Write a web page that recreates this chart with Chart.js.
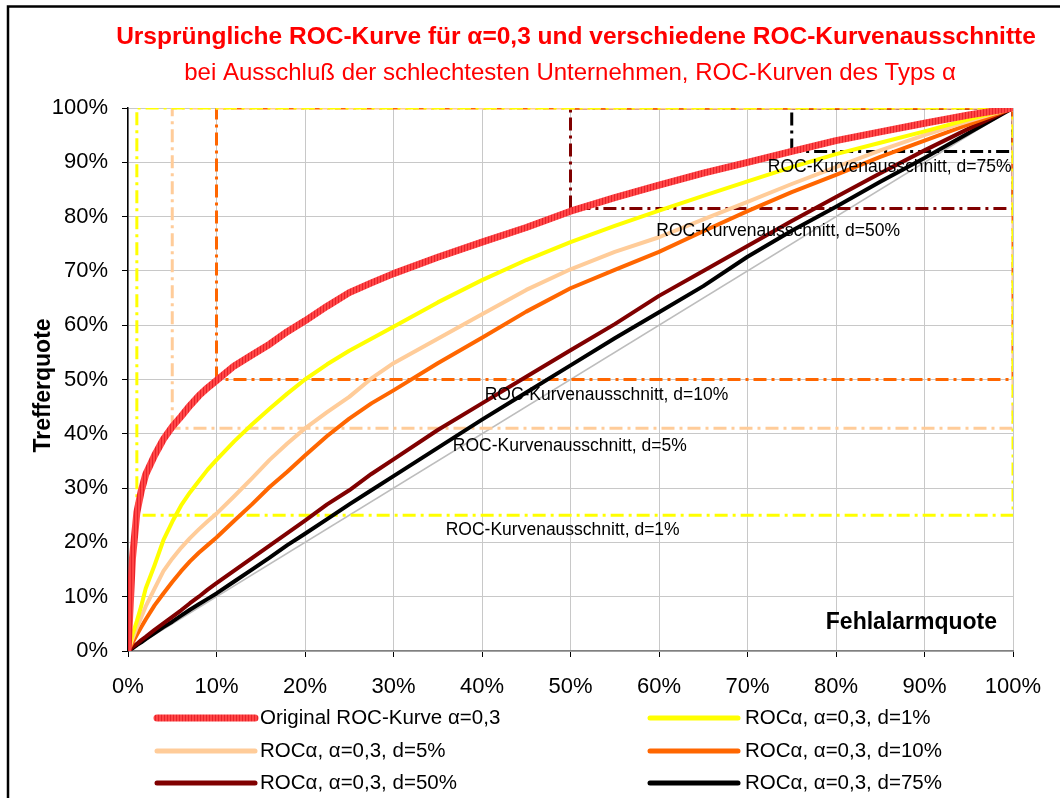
<!DOCTYPE html>
<html>
<head>
<meta charset="utf-8">
<script src="https://cdn.jsdelivr.net/npm/chart.js@4"></script>
<style>
  html, body { margin: 0; padding: 0; background: #fff; }
  canvas { display: block; }
</style>
</head>
<body>
<canvas id="roc" width="1060" height="798" style="width:1060px;height:798px"></canvas>
<script>
// ---- data -------------------------------------------------------------
// false alarm rate (x, in %)
const FPR = [0, 0.5, 1, 1.5, 2, 3, 4, 5, 6, 7, 8, 9, 10, 12, 14, 16, 18, 20, 22.5, 25, 27.5,
             30, 35, 40, 45, 50, 55, 60, 65, 70, 75, 80, 85, 90, 95, 100];

// hit rate (y, in %) of each curve
const ROC_ORIGINAL = [0, 17, 25.5, 29.5, 32.5, 36, 39, 41.3, 43.2, 45.2, 47, 48.5, 49.8, 52.5, 54.5,
                      56.5, 58.8, 60.8, 63.5, 66, 67.8, 69.5, 72.5, 75.3, 78, 81, 83.5, 85.8, 88, 90,
                      92, 94, 95.6, 97.2, 98.7, 100];
const ROC_D1  = [0, 3, 5.5, 8.3, 11.5, 15.8, 20.4, 23.8, 26.8, 29.2, 31.3, 33.4, 35.2, 38.6, 41.7,
                 44.6, 47.4, 50, 52.8, 55.3, 57.5, 59.7, 64.2, 68.3, 72, 75.3, 78.3, 81.1, 83.8, 86.5,
                 89.1, 91.5, 93.6, 95.7, 97.9, 100];
const ROC_D5  = [0, 2.2, 4.3, 6.2, 8.2, 11.5, 14.7, 17, 19, 20.8, 22.4, 23.9, 25.3, 28.5, 31.8,
                 35.2, 38.2, 41, 44, 46.8, 50.2, 53, 57.5, 62, 66.5, 70.3, 73.5, 76.2, 79.5, 82.7,
                 86, 89.1, 92.2, 95, 97.6, 100];
const ROC_D10 = [0, 1.5, 3, 4.4, 5.8, 8.4, 10.6, 12.7, 14.7, 16.5, 18.1, 19.5, 20.9, 24, 27,
                 30.2, 33, 36, 39.6, 42.8, 45.6, 48, 53, 57.7, 62.5, 66.8, 70.2, 73.5, 77.3, 81,
                 84.5, 87.7, 91, 94, 97, 100];
const ROC_D50 = [0, 0.7, 1.3, 2, 2.6, 3.9, 5.1, 6.3, 7.5, 8.8, 10, 11.3, 12.5, 14.8, 17.1,
                 19.4, 21.7, 24, 27, 29.6, 32.6, 35.3, 40.7, 45.6, 50.5, 55.4, 60.2, 65.4, 70, 74.6,
                 79.2, 83.6, 88, 92.2, 96.2, 100];
const ROC_D75 = [0, 0.5, 1.1, 1.6, 2.2, 3.3, 4.4, 5.4, 6.5, 7.6, 8.6, 9.6, 10.6, 12.8, 15,
                 17.2, 19.5, 21.6, 24.3, 27, 29.6, 32.2, 37.4, 42.6, 47.6, 52.6, 57.6, 62.4, 67.2, 72.6,
                 77.4, 81.8, 86.4, 90.8, 95.4, 100];

// diagonal (random model)
const DIAG_X = [0, 100];
const DIAG_Y = [0, 100];

// curve sections: lower-left corner (false alarm rate, hit rate) of each window
const SECTION_D   = [1, 5, 10, 50, 75];
const SECTION_HIT = [25, 41, 50, 81.5, 92];
const SECTION_TEXT = ['ROC-Kurvenausschnitt, d=1%', 'ROC-Kurvenausschnitt, d=5%',
                      'ROC-Kurvenausschnitt, d=10%', 'ROC-Kurvenausschnitt, d=50%',
                      'ROC-Kurvenausschnitt, d=75%'];
// where each section caption sits (data coordinates of its left edge)
const SECTION_TEXT_X = [35.9, 36.7, 40.3, 59.7, 72.3];
const SECTION_TEXT_Y = [22.3, 37.8, 47.1, 77.3, 89.1];

const SERIES_NAMES = ['Original ROC-Kurve α=0,3', 'ROCα, α=0,3, d=1%', 'ROCα, α=0,3, d=5%',
                      'ROCα, α=0,3, d=10%', 'ROCα, α=0,3, d=50%', 'ROCα, α=0,3, d=75%'];

const X_TICKS = [0, 10, 20, 30, 40, 50, 60, 70, 80, 90, 100];
const Y_TICKS = [0, 10, 20, 30, 40, 50, 60, 70, 80, 90, 100];

const TITLE = ['Ursprüngliche ROC-Kurve für α=0,3 und verschiedene ROC-Kurvenausschnitte',
               'bei Ausschluß der schlechtesten Unternehmen, ROC-Kurven des Typs α'];
const X_TITLE = 'Fehlalarmquote';
const Y_TITLE = 'Trefferquote';

// ---- styles -----------------------------------------------------------
const FONT = "'Liberation Sans', Arial, Helvetica, sans-serif";
const COLORS = ['#ff3b3b', '#ffff00', '#ffcc99', '#ff6600', '#800000', '#000000'];
const SECTION_COLORS = ['#ffff00', '#ffcc99', '#ff6600', '#800000', '#000000'];

// hatched red stroke for the original curve
function hatchedRed() {
  const p = document.createElement('canvas');
  p.width = 3; p.height = 1;
  const g = p.getContext('2d');
  g.fillStyle = '#ff4646'; g.fillRect(0, 0, 3, 1);
  g.fillStyle = '#e8232b'; g.fillRect(2, 0, 1, 1);
  return document.getElementById('roc').getContext('2d').createPattern(p, 'repeat');
}

const pts = (xs, ys) => xs.map((x, i) => ({ x, y: ys[i] }));

const curveValues = [ROC_ORIGINAL, ROC_D1, ROC_D5, ROC_D10, ROC_D50, ROC_D75];
const redPattern = hatchedRed();

const curveSets = curveValues.map((vals, i) => ({
  label: SERIES_NAMES[i],
  data: pts(FPR, vals),
  borderColor: i === 0 ? redPattern : COLORS[i],
  borderWidth: i === 0 ? 7 : 4,
  legendWidth: i === 0 ? 7 : 5,
  inLegend: true,
  showLine: true,
  pointRadius: 0,
  tension: 0,
  borderCapStyle: 'round',
  borderJoinStyle: 'round'
}));

const sectionSets = SECTION_D.map((d, i) => ({
  label: SECTION_TEXT[i],
  data: [
    { x: d, y: SECTION_HIT[i] }, { x: d, y: 100 }, { x: 100, y: 100 },
    { x: 100, y: SECTION_HIT[i] }, { x: d, y: SECTION_HIT[i] }
  ],
  borderColor: SECTION_COLORS[i],
  borderWidth: 3,
  borderDash: [13, 5, 3, 5],
  showLine: true,
  pointRadius: 0,
  tension: 0
}));

const diagSet = {
  label: 'Zufallsmodell',
  data: pts(DIAG_X, DIAG_Y),
  borderColor: '#bdbdbd',
  borderWidth: 1.5,
  showLine: true,
  pointRadius: 0
};

// ---- titles, captions, legend, frame ---------------------------------
const decorations = {
  id: 'decorations',
  beforeDraw(chart) {
    const c = chart.ctx;
    c.save();
    c.fillStyle = '#fff';
    c.fillRect(0, 0, chart.width, chart.height);
    c.strokeStyle = '#000';
    c.lineWidth = 2.5;
    c.strokeRect(8, 6.5, chart.width + 40, chart.height + 40);
    c.restore();
  },
  afterDraw(chart) {
    const c = chart.ctx, xs = chart.scales.x, ys = chart.scales.y;
    c.save();
    c.textBaseline = 'middle';

    // title
    c.fillStyle = '#ff0000';
    c.textAlign = 'center';
    c.font = `bold 24.5px ${FONT}`;
    c.fillText(TITLE[0], 576, 37);
    c.font = `24px ${FONT}`;
    c.fillText(TITLE[1], 570, 73);

    // axis titles
    c.fillStyle = '#000';
    c.font = `bold 23px ${FONT}`;
    c.textAlign = 'right';
    c.fillText(X_TITLE, xs.getPixelForValue(98.2), ys.getPixelForValue(5.2));
    c.save();
    c.translate(44, (ys.top + ys.bottom) / 2 + 6);
    c.rotate(-Math.PI / 2);
    c.textAlign = 'center';
    c.fillText(Y_TITLE, 0, 0);
    c.restore();

    // section captions
    c.font = `17.5px ${FONT}`;
    c.textAlign = 'left';
    SECTION_TEXT.forEach((t, i) => {
      c.fillText(t, xs.getPixelForValue(SECTION_TEXT_X[i]), ys.getPixelForValue(SECTION_TEXT_Y[i]));
    });

    // legend: two columns, three rows
    const colLine = [[157, 255], [650, 738]];
    const colText = [260, 745];
    const rowY = [718, 751, 783];
    c.font = `20.5px ${FONT}`;
    const items = chart.data.datasets.filter(ds => ds.inLegend);
    items.forEach((ds, i) => {
      const col = i % 2, row = Math.floor(i / 2);
      const y = rowY[row];
      c.beginPath();
      c.strokeStyle = ds.borderColor;
      c.lineWidth = ds.legendWidth;
      c.lineCap = 'round';
      c.moveTo(colLine[col][0], y);
      c.lineTo(colLine[col][1], y);
      c.stroke();
      c.fillStyle = '#000';
      c.fillText(ds.label, colText[col], y);
    });
    c.restore();
  }
};

new Chart(document.getElementById('roc'), {
  type: 'scatter',
  data: { datasets: [...curveSets, ...sectionSets, diagSet] },
  options: {
    responsive: false,
    animation: false,
    devicePixelRatio: 1,
    layout: { padding: { left: 0, top: 108, right: 47, bottom: 0 } },
    plugins: {
      legend: { display: false },
      title: { display: false },
      tooltip: { enabled: false }
    },
    scales: {
      x: {
        type: 'linear',
        min: 0, max: 100,
        afterBuildTicks: s => { s.ticks = X_TICKS.map(v => ({ value: v })); },
        afterFit: s => { s.height = 147; },
        ticks: {
          callback: v => v + '%',
          color: '#000',
          font: { family: FONT, size: 22 },
          padding: 17,
          maxRotation: 0,
          autoSkip: false
        },
        grid: { color: '#c8c8c8', lineWidth: 1, tickColor: '#000', tickLength: 6 },
        border: { color: '#808080', width: 1.5 }
      },
      y: {
        type: 'linear',
        min: 0, max: 100,
        afterBuildTicks: s => { s.ticks = Y_TICKS.map(v => ({ value: v })); },
        afterFit: s => { s.width = 128; },
        ticks: {
          callback: v => v + '%',
          color: '#000',
          font: { family: FONT, size: 22 },
          padding: 14,
          autoSkip: false
        },
        grid: { color: '#c8c8c8', lineWidth: 1, tickColor: '#000', tickLength: 6 },
        border: { color: '#000', width: 1.5 }
      }
    }
  },
  plugins: [decorations]
});
</script>
</body>
</html>
